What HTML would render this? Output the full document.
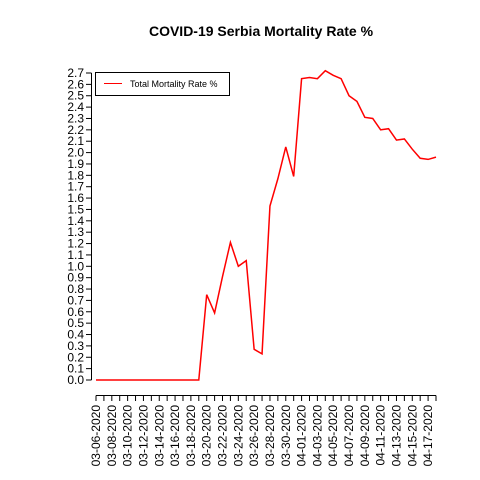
<!DOCTYPE html>
<html><head><meta charset="utf-8"><style>body{margin:0;background:#fff}svg{display:block;font-family:"Liberation Sans",sans-serif}</style></head>
<body>
<svg id="chart" width="480" height="480" xmlns="http://www.w3.org/2000/svg">
<text x="261" y="36" text-anchor="middle" font-size="14" font-weight="bold">COVID-19 Serbia Mortality Rate %</text>
<g id="yaxis"></g>
<g id="xaxis"></g>
<g id="plot"></g>
<g>
<rect x="95.5" y="72.5" width="134" height="23" fill="#fff" stroke="#000"/>
<line x1="104" y1="83.5" x2="122" y2="83.5" stroke="red" stroke-width="1"/>
<text x="130" y="87" font-size="9">Total Mortality Rate %</text>
</g>
</svg>
<script>
const dates=["03-06-2020","03-07-2020","03-08-2020","03-09-2020","03-10-2020","03-11-2020","03-12-2020","03-13-2020","03-14-2020","03-15-2020","03-16-2020","03-17-2020","03-18-2020","03-19-2020","03-20-2020","03-21-2020","03-22-2020","03-23-2020","03-24-2020","03-25-2020","03-26-2020","03-27-2020","03-28-2020","03-29-2020","03-30-2020","03-31-2020","04-01-2020","04-02-2020","04-03-2020","04-04-2020","04-05-2020","04-06-2020","04-07-2020","04-08-2020","04-09-2020","04-10-2020","04-11-2020","04-12-2020","04-13-2020","04-14-2020","04-15-2020","04-16-2020","04-17-2020","04-18-2020"];
const rates=[0,0,0,0,0,0,0,0,0,0,0,0,0,0,0.75,0.59,0.91,1.21,1.0,1.05,0.27,0.23,1.53,1.77,2.05,1.79,2.65,2.66,2.65,2.72,2.68,2.65,2.5,2.45,2.31,2.3,2.2,2.21,2.11,2.12,2.03,1.95,1.94,1.96];
const yTicks=[];for(let i=0;i<=27;i++)yTicks.push(i/10);
const NS="http://www.w3.org/2000/svg";
const x=i=>96+i*(340/(dates.length-1));
const y=v=>380-v*(307/2.7);
function mk(t,a,p){const e=document.createElementNS(NS,t);for(const k in a)e.setAttribute(k,a[k]);p.appendChild(e);return e;}
const ya=document.getElementById('yaxis'),xa=document.getElementById('xaxis'),pl=document.getElementById('plot');
mk('line',{x1:91.5,y1:y(0),x2:91.5,y2:y(2.7),stroke:'#000'},ya);
yTicks.forEach(v=>{
 mk('line',{x1:91.5,x2:86,y1:y(v),y2:y(v),stroke:'#000'},ya);
 const t=mk('text',{x:84,y:y(v)+4,'text-anchor':'end','font-size':12},ya);
 
 
 t.textContent=v.toFixed(1);
});
mk('line',{x1:x(0),x2:x(dates.length-1),y1:395.5,y2:395.5,stroke:'#000'},xa);
dates.forEach((d,i)=>{
 mk('line',{x1:x(i),x2:x(i),y1:395.5,y2:401,stroke:'#000'},xa);
 if(i%2===0){
  const t=mk('text',{transform:`translate(${x(i)+4},405) rotate(-90)`,'text-anchor':'end','font-size':12},xa);
  
  
  t.textContent=d;
 }
});
const p=mk('polyline',{points:rates.map((v,i)=>x(i)+','+y(v)).join(' '),fill:'none',stroke:'red','stroke-width':1.5},pl);


</script>
</body></html>
